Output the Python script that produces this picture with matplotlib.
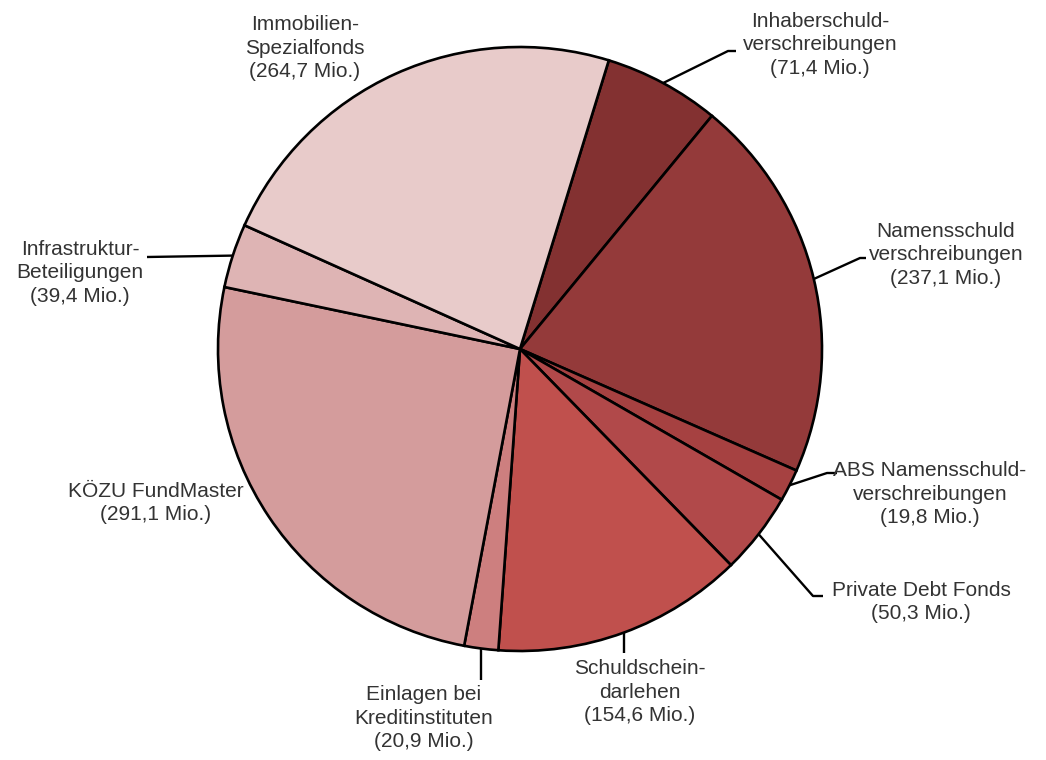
import matplotlib
matplotlib.use("Agg")
import matplotlib.pyplot as plt
import numpy as np

categories = ["Inhaberschuld-\nverschreibungen", "Namensschuld\nverschreibungen",
              "ABS Namensschuld-\nverschreibungen", "Private Debt Fonds",
              "Schuldschein-\ndarlehen", "Einlagen bei\nKreditinstituten",
              "KÖZU FundMaster", "Infrastruktur-\nBeteiligungen", "Immobilien-\nSpezialfonds"]
values = [71.4, 237.1, 19.8, 50.3, 154.6, 20.9, 291.1, 39.4, 264.7]
value_labels = ["(71,4 Mio.)", "(237,1 Mio.)", "(19,8 Mio.)", "(50,3 Mio.)", "(154,6 Mio.)",
                "(20,9 Mio.)", "(291,1 Mio.)", "(39,4 Mio.)", "(264,7 Mio.)"]
colors = ["#833131", "#943a3a", "#a64141", "#b1494a", "#c0504d",
          "#cd7f7f", "#d49c9c", "#deb4b4", "#e8cbca"]

W, H = 1046, 760
fig = plt.figure(figsize=(W / 100, H / 100), dpi=100)
ax = fig.add_axes([0, 0, 1, 1])

cx, cy, r = 520, H - 349, 302
start = 72.9
wedges, _ = ax.pie(values, colors=colors, startangle=start, counterclock=False,
                   center=(cx, cy), radius=r, frame=True,
                   wedgeprops=dict(edgecolor="black", linewidth=1.9))
ax.set_xlim(0, W)
ax.set_ylim(0, H)
ax.set_aspect("equal")
ax.axis("off")

# label text positions (pixel coords, y down) and leader elbows
label_pos = [(820, 45), (946, 255), (930, 494), (921, 602), (640, 692),
             (424, 718), (156, 503), (80, 273), (305, 48)]
leaders = [
    [(728, 51), (736, 51)],
    [(860, 258), (866, 258)],
    [(827, 473), (837, 473)],
    [(813, 596), (823, 596)],
    [(None, 653)],
    [(None, 680)],
    None,
    [(147, 257)],
    None,
]

for i, w in enumerate(wedges):
    x, y = label_pos[i]
    ax.text(x, H - y, categories[i] + "\n" + value_labels[i], ha="center", va="center",
            fontsize=15, family="Liberation Sans", color="#333333", linespacing=1.32)
    if leaders[i] is None:
        continue
    mid = np.deg2rad((w.theta1 + w.theta2) / 2)
    px, py = cx + r * np.cos(mid), cy + r * np.sin(mid)
    xs, ys = [px], [py]
    for qx, qy in leaders[i]:
        if qx is None:
            qx = px
        xs.append(qx)
        ys.append(H - qy)
    ax.plot(xs, ys, color="black", linewidth=1.7, solid_capstyle="butt")

fig.savefig("out.png", dpi=100, facecolor="white")
